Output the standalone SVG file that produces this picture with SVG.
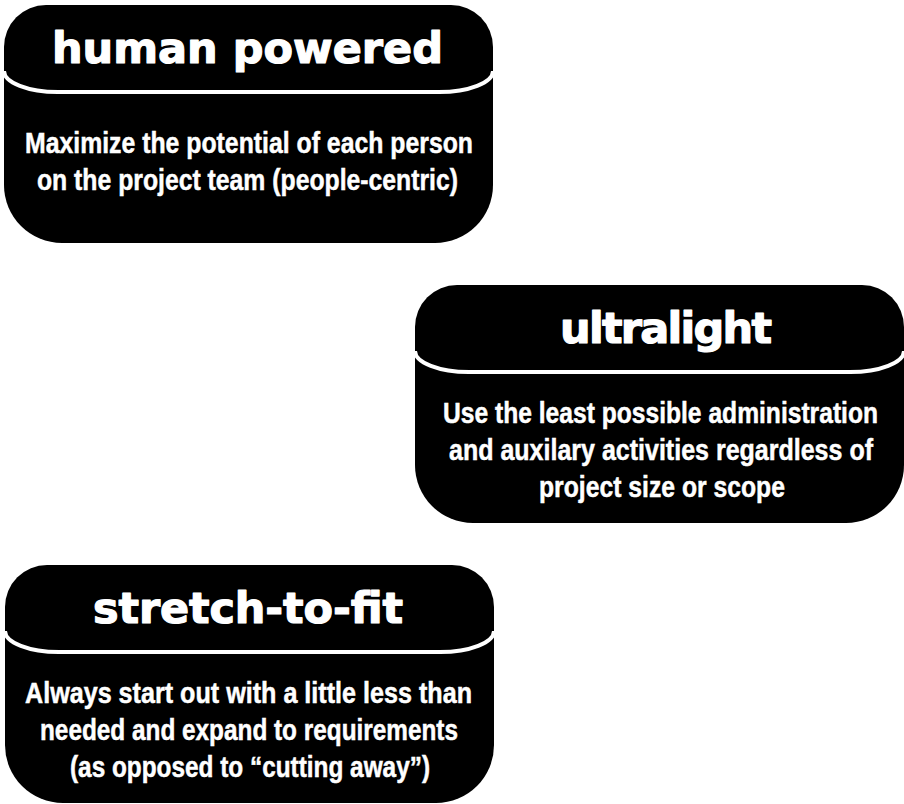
<svg xmlns="http://www.w3.org/2000/svg" xmlns:xlink="http://www.w3.org/1999/xlink" width="904" height="804" viewBox="0 0 904 804">
  <style>
    .fill { fill: #000; }
    .sep { fill: none; stroke: #fff; stroke-width: 4; }
    .title { font-family: "DejaVu Sans", "Liberation Sans", sans-serif; font-weight: bold; font-size: 43px; fill: #fff; stroke: #fff; stroke-width: 1.2; stroke-linejoin: round; }
    .body { font-family: "Liberation Sans", "DejaVu Sans", sans-serif; font-weight: bold; font-size: 24px; fill: #fff; stroke: #fff; stroke-width: 0.4; }
  </style>
  <defs>
    <g id="card">
      <path class="fill" d="M4,55 H493 V185 A58 58 0 0 1 435,243 H62 A58 58 0 0 1 4,185 Z"/>
      <path class="fill" d="M46,5 H451 A42 42 0 0 1 493,47 V71 A54 21 0 0 1 439,92 H58 A54 21 0 0 1 4,71 V47 A42 42 0 0 1 46,5 Z"/>
      <path class="sep" d="M4,71 A54 21 0 0 0 58,92 H439 A54 21 0 0 0 493,71"/>
    </g>
  </defs>
  <g id="connectors"></g>
  <g id="node-human-powered">
    <use href="#card" xlink:href="#card"/>
    <text class="title" x="52" y="63" textLength="391" lengthAdjust="spacing">human powered</text>
    <g transform="scale(1,1.25)">
      <text class="body" x="25" y="122.4" textLength="448" lengthAdjust="spacingAndGlyphs">Maximize the potential of each person</text>
      <text class="body" x="37" y="152" textLength="421" lengthAdjust="spacingAndGlyphs">on the project team (people-centric)</text>
    </g>
  </g>
  <g id="node-ultralight">
    <use href="#card" xlink:href="#card" transform="translate(411,280)"/>
    <text class="title" x="560" y="343" textLength="212" lengthAdjust="spacing">ultralight</text>
    <g transform="scale(1,1.25)">
      <text class="body" x="443" y="338.4" textLength="435" lengthAdjust="spacingAndGlyphs">Use the least possible administration</text>
      <text class="body" x="449" y="368" textLength="424" lengthAdjust="spacingAndGlyphs">and auxilary activities regardless of</text>
      <text class="body" x="539" y="397.6" textLength="246" lengthAdjust="spacingAndGlyphs">project size or scope</text>
    </g>
  </g>
  <g id="node-stretch-to-fit">
    <use href="#card" xlink:href="#card" transform="translate(1,560)"/>
    <text class="title" x="93" y="623" textLength="310" lengthAdjust="spacing">stretch-to-fit</text>
    <g transform="scale(1,1.25)">
      <text class="body" x="25" y="562.4" textLength="447" lengthAdjust="spacingAndGlyphs">Always start out with a little less than</text>
      <text class="body" x="40" y="592" textLength="418" lengthAdjust="spacingAndGlyphs">needed and expand to requirements</text>
      <text class="body" x="70" y="621.6" textLength="360" lengthAdjust="spacingAndGlyphs">(as opposed to “cutting away”)</text>
    </g>
  </g>
</svg>
